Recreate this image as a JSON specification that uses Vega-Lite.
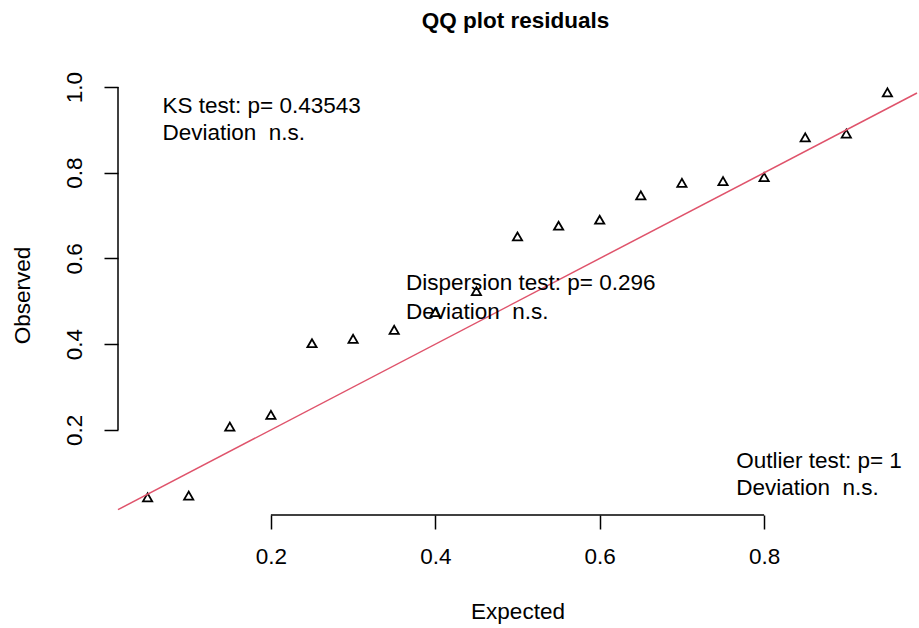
{
  "$schema": "https://vega.github.io/schema/vega-lite/v6.json",
  "width": 799,
  "height": 440,
  "autosize": {"type": "none"},
  "padding": {"left": 118, "top": 75, "right": 2, "bottom": 113},
  "background": "white",
  "config": {"view": {"stroke": null}, "font": "Liberation Sans"},
  "title": {
    "text": "QQ plot residuals",
    "fontSize": 22.5,
    "fontWeight": "bold",
    "font": "Liberation Sans",
    "color": "black",
    "anchor": "middle",
    "baseline": "alphabetic",
    "offset": 21,
    "dx": -2
  },
  "datasets": {
    "points": [
      {"x": 0.05, "y": 0.0427},
      {"x": 0.10, "y": 0.0467},
      {"x": 0.15, "y": 0.2078},
      {"x": 0.20, "y": 0.2351},
      {"x": 0.25, "y": 0.4023},
      {"x": 0.30, "y": 0.4126},
      {"x": 0.35, "y": 0.4336},
      {"x": 0.40, "y": 0.4747},
      {"x": 0.45, "y": 0.5237},
      {"x": 0.50, "y": 0.6514},
      {"x": 0.55, "y": 0.6764},
      {"x": 0.60, "y": 0.6904},
      {"x": 0.65, "y": 0.7471},
      {"x": 0.70, "y": 0.7763},
      {"x": 0.75, "y": 0.7805},
      {"x": 0.80, "y": 0.7899},
      {"x": 0.85, "y": 0.8826},
      {"x": 0.90, "y": 0.8912},
      {"x": 0.95, "y": 0.9876}
    ],
    "refline": [{"x": 0.014, "y": 0.014}, {"x": 0.986, "y": 0.986}],
    "xaxisline": [{"x": 0.2, "x2": 0.8, "y": 0.0015}],
    "yaxisline": [{"x": 0.014, "y": 0.2, "y2": 1.0}],
    "labels": [
      {"x": 0.0682, "y": 0.9402, "label": "KS test: p= 0.43543"},
      {"x": 0.0682, "y": 0.8755, "label": "Deviation\u00a0\u00a0n.s."},
      {"x": 0.3643, "y": 0.5253, "label": "Dispersion test: p= 0.296"},
      {"x": 0.3643, "y": 0.4592, "label": "Deviation\u00a0\u00a0n.s."},
      {"x": 0.766, "y": 0.1113, "label": "Outlier test: p= 1"},
      {"x": 0.766, "y": 0.049, "label": "Deviation\u00a0\u00a0n.s."}
    ]
  },
  "layer": [
    {
      "data": {"name": "points"},
      "mark": {"type": "point", "shape": "triangle-up", "filled": false, "size": 85, "stroke": "black", "strokeWidth": 1.8, "opacity": 1, "clip": false},
      "encoding": {
        "x": {
          "field": "x", "type": "quantitative",
          "scale": {"domain": [0.014, 0.986], "nice": false, "zero": false},
          "axis": {
            "values": [0.2, 0.4, 0.6, 0.8], "format": ".1f", "domain": false, "grid": false,
            "tickSize": 14, "tickWidth": 1.5, "tickColor": "black",
            "labelFontSize": 22.5, "labelColor": "black", "labelPadding": 16, "labelFont": "Liberation Sans", "labelFlush": false,
            "title": "Expected", "titleFontSize": 22.5, "titleFontWeight": "normal", "titleColor": "black", "titleFont": "Liberation Sans",
            "titleY": 103, "titleBaseline": "alphabetic"
          }
        },
        "y": {
          "field": "y", "type": "quantitative",
          "scale": {"domain": [0.0015, 1.028], "nice": false, "zero": false},
          "axis": {
            "values": [0.2, 0.4, 0.6, 0.8, 1.0], "format": ".1f", "domain": false, "grid": false,
            "tickSize": 14, "tickWidth": 1.5, "tickColor": "black",
            "labelFontSize": 22.5, "labelColor": "black", "labelPadding": 22.5, "labelFont": "Liberation Sans",
            "labelAngle": 270, "labelAlign": "center", "labelBaseline": "alphabetic", "labelFlush": false,
            "title": "Observed", "titleFontSize": 22.5, "titleFontWeight": "normal", "titleColor": "black", "titleFont": "Liberation Sans",
            "titleX": -88.8, "titleY": 220, "titleAngle": 270, "titleAlign": "center", "titleBaseline": "alphabetic"
          }
        }
      }
    },
    {
      "data": {"name": "refline"},
      "mark": {"type": "line", "color": "#DF536B", "strokeWidth": 1.5, "clip": false},
      "encoding": {
        "x": {"field": "x", "type": "quantitative"},
        "y": {"field": "y", "type": "quantitative"}
      }
    },
    {
      "data": {"name": "xaxisline"},
      "mark": {"type": "rule", "color": "black", "strokeWidth": 1.5, "clip": false},
      "encoding": {
        "x": {"field": "x", "type": "quantitative"},
        "x2": {"field": "x2"},
        "y": {"field": "y", "type": "quantitative"}
      }
    },
    {
      "data": {"name": "yaxisline"},
      "mark": {"type": "rule", "color": "black", "strokeWidth": 1.5, "clip": false},
      "encoding": {
        "x": {"field": "x", "type": "quantitative"},
        "y": {"field": "y", "type": "quantitative"},
        "y2": {"field": "y2"}
      }
    },
    {
      "data": {"name": "labels"},
      "mark": {"type": "text", "align": "left", "baseline": "alphabetic", "fontSize": 22.5, "font": "Liberation Sans", "color": "black", "clip": false},
      "encoding": {
        "x": {"field": "x", "type": "quantitative"},
        "y": {"field": "y", "type": "quantitative"},
        "text": {"field": "label"}
      }
    }
  ]
}
